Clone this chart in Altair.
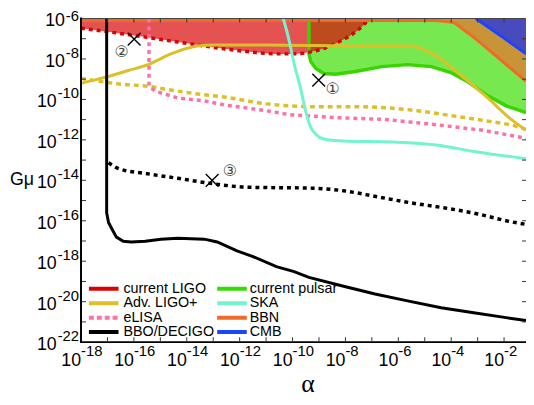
import altair as alt
import pandas as pd

# ---- curve data (log10 of alpha, log10 of G mu) ----
LIGO_X = [-18.0, -16.84, -15.57, -14.34, -12.59, -11.62, -10.61, -9.87, -9.31, -8.75, -8.26, -7.74, -7.33, -7.10]
LIGO_Y = [-6.48, -6.68, -6.92, -7.16, -7.50, -7.65, -7.75, -7.75, -7.65, -7.45, -7.16, -6.78, -6.34, -6.0]

PULSAR_X = [-9.38, -9.38, -9.31, -9.12, -8.82, -8.37, -7.63, -6.62, -5.65, -4.75, -4.01, -3.41, -2.66, -1.92, -1.17]
PULSAR_Y = [-6.0, -7.75, -8.13, -8.47, -8.72, -8.76, -8.62, -8.38, -8.28, -8.38, -8.67, -9.10, -9.78, -10.32, -10.65]

BBN_X = [-18.0, -4.64, -3.97, -3.45, -2.70, -1.96, -1.17]
BBN_Y = [-6.10, -6.10, -6.19, -6.63, -7.41, -8.23, -9.10]

CMB_X = [-3.07, -2.48, -1.84, -1.17]
CMB_Y = [-6.0, -6.53, -7.12, -7.75]

ADV_X = [-18.0, -16.96, -16.21, -15.46, -14.60, -13.60, -12.96, -10.99, -7.07, -5.76, -5.31, -5.01, -4.57, -3.71, -2.70, -1.73, -1.17]
ADV_Y = [-9.20, -8.86, -8.57, -8.28, -7.75, -7.36, -7.31, -7.31, -7.36, -7.36, -7.41, -7.55, -7.84, -8.72, -9.83, -10.99, -11.53]

ADVS_X = [-18.0, -17.33, -16.47, -15.46, -14.83, -13.60, -12.59, -10.99, -9.12, -7.74, -6.51, -5.28, -4.01, -2.78, -1.54, -1.17]
ADVS_Y = [-8.96, -9.10, -9.25, -9.35, -9.49, -9.73, -9.88, -10.22, -10.36, -10.36, -10.41, -10.56, -10.80, -11.04, -11.33, -11.48]

ELISA_X = [-15.43, -15.43, -15.20, -14.34, -13.34, -12.59, -10.99, -10.13, -8.37, -6.51, -4.64, -2.78, -1.17]
ELISA_Y = [-6.0, -9.35, -9.59, -9.93, -10.07, -10.27, -10.56, -10.75, -10.90, -10.99, -11.24, -11.53, -11.92]

SKA_X = [-10.35, -10.16, -9.94, -9.68, -9.49, -9.31, -9.12, -8.82, -8.07, -6.21, -4.57, -3.07, -1.17]
SKA_Y = [-6.0, -6.92, -8.23, -9.54, -10.65, -11.38, -11.72, -11.96, -12.06, -12.11, -12.25, -12.59, -12.93]

BBO_X = [-17.03, -17.03, -16.96, -16.84, -16.66, -16.40, -16.10, -15.57, -14.98, -14.34, -13.34, -12.85, -12.10,
         -11.47, -10.61, -9.94, -9.38, -8.07, -6.88, -5.65, -4.38, -3.15, -1.92, -1.17]
BBO_Y = [-6.0, -15.60, -16.08, -16.38, -16.81, -17.01, -17.05, -17.01, -16.91, -16.86, -16.91, -17.05, -17.49,
         -17.78, -18.27, -18.51, -18.80, -19.24, -19.62, -19.96, -20.30, -20.55, -20.79, -20.93]

BBOS_X = [-16.96, -16.58, -15.57, -14.34, -13.11, -11.73, -9.23, -8.0, -6.77, -5.5, -4.27, -3.04, -1.77, -1.17]
BBOS_Y = [-13.13, -13.42, -13.66, -13.90, -14.15, -14.34, -14.39, -14.53, -14.82, -15.12, -15.36, -15.65, -16.04, -16.18]

MARK_X = [-9.01, -15.99, -13.04]
MARK_Y = [-9.05, -7.02, -14.0]
NOTE_TEXT = ["①", "②", "③"]
NOTE_X = [-8.49, -16.47, -12.37]
NOTE_Y = [-9.49, -7.65, -13.56]

X_LABEL_EXP = [-18, -16, -14, -12, -10, -8, -6, -4, -2]
Y_LABEL_EXP = [-6, -8, -10, -12, -14, -16, -18, -20, -22]
X_TICK_EXP = list(range(-17, -1))
Y_TICK_EXP = list(range(-21, -6))

LEG_NAMES = ["current LIGO", "Adv. LIGO+", "eLISA", "BBO/DECIGO", "current pulsar", "SKA", "BBN", "CMB"]
LEG_COLORS = ["#dd0000", "#dcc02a", "#ff70a6", "#000000", "#33dd00", "#72f5cf", "#f06a28", "#1a44ff"]
LEG_DASH = [[1, 0], [1, 0], [5, 3], [1, 0], [1, 0], [1, 0], [1, 0], [1, 0]]

FONT = "Liberation Sans"
W, H = 451, 328
X_MIN, X_MAX = 1e-18, 10 ** -1.17
Y_MIN, Y_MAX = 1e-22, 1e-6

xscale = alt.Scale(type="log", domain=[X_MIN, X_MAX], nice=False)
yscale = alt.Scale(type="log", domain=[Y_MIN, Y_MAX], nice=False)


def X(field):
    return alt.X(field, scale=xscale, axis=None)


def Y(field):
    return alt.Y(field, scale=yscale, axis=None)


def frame(xs, ys):
    return pd.DataFrame({"a": [10.0 ** v for v in xs], "g": [10.0 ** v for v in ys],
                         "top": [Y_MAX] * len(xs), "i": list(range(len(xs)))})


def area(xs, ys, color, opacity, interp="linear"):
    return alt.Chart(frame(xs, ys)).mark_area(fill=color, fillOpacity=opacity, clip=True,
                                              interpolate=interp, orient="vertical").encode(
        x=X("a:Q"), y=alt.Y("g:Q", scale=yscale, axis=None, stack=None), y2=alt.Y2("top:Q"))


def line(xs, ys, color, width=3.0, dash=None, interp="linear"):
    kw = dict(color=color, strokeWidth=width, clip=True, interpolate=interp)
    if dash:
        kw["strokeDash"] = dash
    return alt.Chart(frame(xs, ys)).mark_line(**kw).encode(x=X("a:Q"), y=Y("g:Q"), order="i:Q")


layers = [
    area(PULSAR_X[1:], PULSAR_Y[1:], "#4be016", 0.75, "linear"),
    area(LIGO_X, LIGO_Y, "#d90808", 0.7, "monotone"),
    area(BBN_X, BBN_Y, "#ff5a28", 0.6, "monotone"),
    area(CMB_X, CMB_Y, "#1b33eb", 0.75, "linear"),
    line(PULSAR_X, PULSAR_Y, "#3ad400", 3.5),
    line(LIGO_X, LIGO_Y, "#dd0000", 3.5, [4, 4], "monotone"),
    line(BBN_X, BBN_Y, "#f06a28", 3, None, "monotone"),
    line(CMB_X, CMB_Y, "#1a44ff", 3),
    line(ADV_X, ADV_Y, "#dcc02a", 3, None, "monotone"),
    line(ADVS_X, ADVS_Y, "#dcc02a", 3.5, [5, 4], "monotone"),
    line(ELISA_X, ELISA_Y, "#ff70a6", 3.5, [4, 4]),
    line(SKA_X, SKA_Y, "#72f5cf", 3, None, "monotone"),
    line(BBO_X, BBO_Y, "#000000", 3),
    line(BBOS_X, BBOS_Y, "#000000", 3.5, [4, 4], "monotone"),
]

# ---- frame: domain lines and inward ticks ----
box = pd.DataFrame({"x0": [X_MIN], "x1": [X_MAX], "y0": [Y_MIN], "y1": [Y_MAX],
                    "gx": [1e-18], "gy": [1e-14], "ax": [10 ** -9.42]})
layers += [
    alt.Chart(box).mark_rule(color="#444", strokeWidth=1).encode(x=X("x0:Q"), x2="x1:Q", y=Y("y1:Q")),
    alt.Chart(box).mark_rule(color="black", strokeWidth=2, strokeCap="square").encode(
        x=X("x0:Q"), x2="x1:Q", y=Y("y0:Q")),
    alt.Chart(box).mark_rule(color="black", strokeWidth=2, strokeCap="square").encode(
        x=X("x0:Q"), y=Y("y0:Q"), y2="y1:Q"),
]
xt = pd.DataFrame({"v": [10.0 ** k for k in X_TICK_EXP]})
xt["lo"] = Y_MIN
xt["hi"] = Y_MAX
yt = pd.DataFrame({"v": [10.0 ** k for k in Y_TICK_EXP]})
yt["lo"] = X_MIN
yt["hi"] = X_MAX
tick_style = dict(thickness=1, size=4, color="#333", opacity=1)
layers += [
    alt.Chart(xt).mark_tick(orient="vertical", yOffset=-3, **tick_style).encode(x=X("v:Q"), y=Y("lo:Q")),
    alt.Chart(xt).mark_tick(orient="vertical", yOffset=2, **tick_style).encode(x=X("v:Q"), y=Y("hi:Q")),
    alt.Chart(yt).mark_tick(orient="horizontal", xOffset=3, **tick_style).encode(y=Y("v:Q"), x=X("lo:Q")),
    alt.Chart(yt).mark_tick(orient="horizontal", xOffset=-2, **tick_style).encode(y=Y("v:Q"), x=X("hi:Q")),
]

# ---- markers and circled notes ----
marks = pd.DataFrame({"a": [10.0 ** v for v in MARK_X], "g": [10.0 ** v for v in MARK_Y]})
layers.append(
    alt.Chart(marks).mark_point(shape="M-1,-1L1,1M-1,1L1,-1", size=169, filled=False, stroke="black",
                                strokeWidth=1.4, opacity=1).encode(x=X("a:Q"), y=Y("g:Q"))
)
notes = pd.DataFrame({"a": [10.0 ** v for v in NOTE_X], "g": [10.0 ** v for v in NOTE_Y], "t": NOTE_TEXT})
layers.append(
    alt.Chart(notes).mark_text(font="DejaVu Sans", fontSize=16, color="#444", align="center",
                               baseline="middle").encode(x=X("a:Q"), y=Y("g:Q"), text="t:N")
)

# ---- tick labels 10^k ----
xl = pd.DataFrame({"v": [10.0 ** e for e in X_LABEL_EXP], "e": [str(e) for e in X_LABEL_EXP]})
xl["lo"] = Y_MIN
layers.append(
    alt.Chart(xl).mark_text(text="10", align="right", baseline="alphabetic", fontSize=18, font=FONT,
                            color="black", dy=24).encode(x=X("v:Q"), y=Y("lo:Q"))
)
layers.append(
    alt.Chart(xl).mark_text(align="left", baseline="alphabetic", fontSize=15, font=FONT,
                            color="black", dy=14).encode(x=X("v:Q"), y=Y("lo:Q"), text="e:N")
)
yl = pd.DataFrame({"v": [10.0 ** e for e in Y_LABEL_EXP], "e": [str(e) for e in Y_LABEL_EXP]})
yl["lo"] = X_MIN
layers.append(
    alt.Chart(yl).transform_calculate(px="-3 - (5 + 8.3 * (length(datum.e) - 1))").mark_text(
        text="10", align="right", baseline="alphabetic", fontSize=18, font=FONT, color="black", dy=8).encode(
        x=alt.X("px:Q", scale=None, axis=None), y=Y("v:Q"))
)
layers.append(
    alt.Chart(yl).transform_filter("datum.e != '-6'").mark_text(
        align="right", baseline="alphabetic", fontSize=15, font=FONT, color="black", dx=-2, dy=-1).encode(
        x=X("lo:Q"), y=Y("v:Q"), text="e:N")
)
layers.append(
    alt.Chart(yl).transform_filter("datum.e == '-6'").mark_text(
        align="right", baseline="alphabetic", fontSize=15, font=FONT, color="black", dx=-2, dy=3).encode(
        x=X("lo:Q"), y=Y("v:Q"), text="e:N")
)

# ---- axis titles ----
layers.append(
    alt.Chart(box).mark_text(text="Gμ", align="left", baseline="alphabetic", fontSize=18, font=FONT,
                             color="black", dx=-72, dy=5).encode(x=X("gx:Q"), y=Y("gy:Q"))
)
layers.append(
    alt.Chart(box).mark_text(text="α", align="center", baseline="alphabetic", fontSize=26,
                             font="Liberation Serif", color="black", dy=51).encode(x=X("ax:Q"), y=Y("y0:Q"))
)

# ---- legend ----
leg = alt.Chart(pd.DataFrame({"name": LEG_NAMES})).transform_window(idx="row_number()").transform_calculate(
    col="floor((datum.idx - 1) / 4)", row="(datum.idx - 1) % 4",
).transform_calculate(
    lx0="8 + datum.col * 130", lx1="38 + datum.col * 130", ly="274 + datum.row * 14.6",
    tx="43 + datum.col * 128",
)
layers.append(
    leg.mark_rule(strokeWidth=4).encode(
        x=alt.X("lx0:Q", scale=None, axis=None), x2="lx1:Q",
        y=alt.Y("ly:Q", scale=None, axis=None),
        color=alt.Color("name:N", scale=alt.Scale(domain=LEG_NAMES, range=LEG_COLORS), legend=None),
        strokeDash=alt.StrokeDash("name:N", scale=alt.Scale(domain=LEG_NAMES, range=LEG_DASH), legend=None),
    )
)
layers.append(
    leg.mark_text(align="left", baseline="middle", fontSize=14.5, font=FONT, color="black").encode(
        x=alt.X("tx:Q", scale=None, axis=None), y=alt.Y("ly:Q", scale=None, axis=None), text="name:N")
)

chart = alt.layer(*layers).properties(
    width=W, height=H,
    padding={"left": 74, "top": 8, "right": 0, "bottom": 55},
    autosize=alt.AutoSizeParams(type="none"),
).configure_view(stroke=None)

chart.save("out.html", embed_options={"renderer": "svg", "actions": False})
